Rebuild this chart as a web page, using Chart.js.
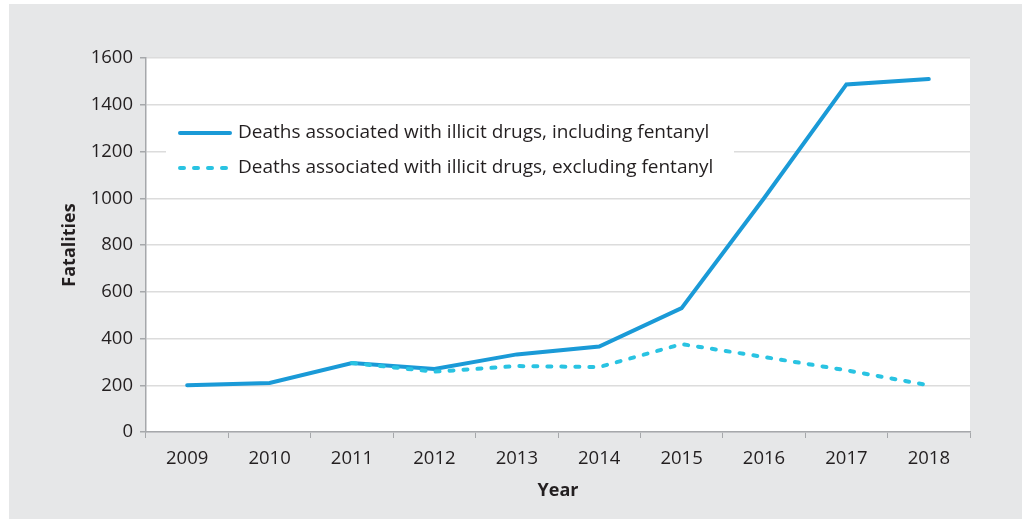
<!DOCTYPE html>
<html>
<head>
<meta charset="utf-8">
<script src="https://cdn.jsdelivr.net/npm/chart.js@4.4.0/dist/chart.umd.min.js"></script>
<style>
  html, body { margin: 0; padding: 0; background: #ffffff; }
  #wrap { position: absolute; left: 0; top: 0; width: 1022px; height: 523px; }
  #bg { position: absolute; left: 9px; top: 4px; width: 1013px; height: 515px; background: #e6e7e8; }
  canvas { position: absolute; left: 0; top: 0; }
</style>
</head>
<body>
<div id="wrap">
  <div id="bg"></div>
  <canvas id="c" width="1022" height="523"></canvas>
</div>
<script>
const years = ['2009','2010','2011','2012','2013','2014','2015','2016','2017','2018'];
const includingFentanyl = [200, 210, 295, 270, 332, 366, 530, 1000, 1487, 1510];
const excludingFentanyl = [null, null, 295, 258, 282, 278, 376, 321, 264, 200];
const yTicks = [0, 200, 400, 600, 800, 1000, 1200, 1400, 1600];
const labelIncluding = 'Deaths associated with illicit drugs, including fentanyl';
const labelExcluding = 'Deaths associated with illicit drugs, excluding fentanyl';

const FONT = "'Open Sans', 'Noto Sans', sans-serif";
const TEXT = '#231f20';
const SOLID = '#1a9ad7';
const DASHED = '#29c3e2';

const plotBg = {
  id: 'plotBg',
  beforeDraw(chart) {
    const {ctx, chartArea: a} = chart;
    ctx.save();
    ctx.fillStyle = '#ffffff';
    ctx.fillRect(a.left, a.top, a.right - a.left, a.bottom - a.top);
    ctx.restore();
  }
};

const innerLegend = {
  id: 'innerLegend',
  beforeDatasetsDraw(chart) {
    const {ctx, chartArea: a} = chart;
    const x0 = a.left + 20, y0 = a.top + 50;
    ctx.save();
    ctx.fillStyle = '#ffffff';
    ctx.fillRect(x0, y0, 568, 90);
    const ds = chart.data.datasets;
    const rows = [{d: ds[0], y: a.top + 75}, {d: ds[1], y: a.top + 110}];
    rows.forEach(r => {
      ctx.beginPath();
      ctx.strokeStyle = r.d.borderColor;
      ctx.lineWidth = 4;
      ctx.lineCap = 'round';
      ctx.setLineDash(r.d.borderDash || []);
      ctx.moveTo(a.left + 34, r.y);
      ctx.lineTo(a.left + 84, r.y);
      ctx.stroke();
      ctx.setLineDash([]);
      ctx.fillStyle = TEXT;
      ctx.font = "19px " + FONT;
      ctx.textBaseline = 'middle';
      ctx.textAlign = 'left';
      ctx.fillText(r.d.label, a.left + 92, r.y);
    });
    ctx.restore();
  }
};

new Chart(document.getElementById('c'), {
  type: 'line',
  data: {
    labels: years,
    datasets: [
      {
        label: labelIncluding,
        data: includingFentanyl,
        borderColor: SOLID,
        backgroundColor: SOLID,
        borderWidth: 4,
        pointRadius: 0,
        tension: 0,
        borderCapStyle: 'round',
        borderJoinStyle: 'miter',
        order: 2
      },
      {
        label: labelExcluding,
        data: excludingFentanyl,
        borderColor: DASHED,
        backgroundColor: DASHED,
        borderWidth: 4,
        borderDash: [4, 10],
        borderCapStyle: 'round',
        pointRadius: 0,
        tension: 0,
        spanGaps: false,
        order: 1
      }
    ]
  },
  options: {
    responsive: false,
    animation: false,
    devicePixelRatio: 1,
    layout: { padding: { left: 56, right: 52, top: 58, bottom: 10 } },
    plugins: { legend: { display: false }, tooltip: { enabled: false } },
    scales: {
      x: {
        offset: true,
        grid: { display: true, drawOnChartArea: false, drawTicks: true, tickLength: 6, tickColor: '#a6a8ab', offset: true },
        border: { display: true, color: '#a6a8ab', width: 1.5 },
        ticks: { color: TEXT, font: { family: FONT, size: 18.5 }, padding: 10, maxRotation: 0 },
        title: { display: true, text: 'Year', color: TEXT, font: { family: FONT, size: 18, weight: 'bold' }, padding: { top: 0, bottom: 11 } },
        afterFit(scale) { scale.height = 81; }
      },
      y: {
        min: 0,
        max: 1600,
        afterBuildTicks(scale) { scale.ticks = yTicks.map(v => ({ value: v })); },
        grid: { color: '#dcdcdc', lineWidth: 1.5, drawTicks: true, tickLength: 6, tickColor: '#a6a8ab' },
        border: { display: true, color: '#a6a8ab', width: 1.5 },
        ticks: { color: TEXT, font: { family: FONT, size: 18.5 }, padding: 7, callback: (v) => String(v) },
        title: { display: true, text: 'Fatalities', color: TEXT, font: { family: FONT, size: 18, weight: 'bold' }, padding: { top: 3.5, bottom: 0 } },
        afterFit(scale) { scale.width = 90; }
      }
    }
  },
  plugins: [plotBg, innerLegend]
});
</script>
</body>
</html>
